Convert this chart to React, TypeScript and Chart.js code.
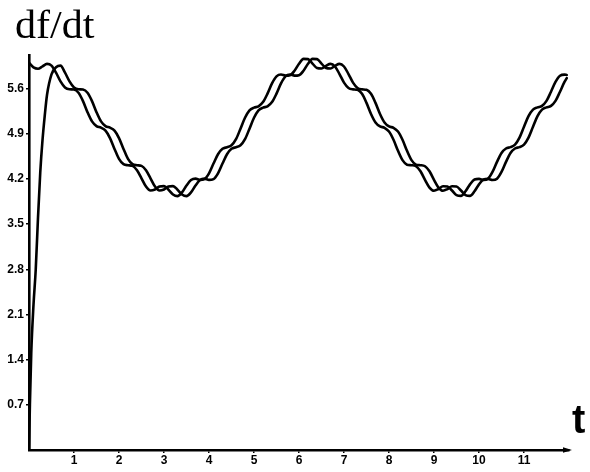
import React, { useEffect, useRef } from "react";
import { Chart, registerables } from "chart.js";

Chart.register(...registerables);

const yTitle = "df/dt";
const xTitle = "t";

const xTicks = [1, 2, 3, 4, 5, 6, 7, 8, 9, 10, 11];
const xTickLabels = ["1", "2", "3", "4", "5", "6", "7", "8", "9", "10", "11"];
const yTicks = [0.7, 1.4, 2.1, 2.8, 3.5, 4.2, 4.9, 5.6];
const yTickLabels = ["0.7", "1.4", "2.1", "2.8", "3.5", "4.2", "4.9", "5.6"];

const timesA = [
  0, 0.1, 0.2, 0.3, 0.4, 0.5, 0.6, 0.7, 0.8, 0.9,
  1, 1.1, 1.2, 1.3, 1.4, 1.5, 1.6, 1.7, 1.8, 1.9,
  2, 2.1, 2.2, 2.3, 2.4, 2.5, 2.6, 2.7, 2.8, 2.9,
  3, 3.1, 3.2, 3.3, 3.4, 3.5, 3.6, 3.7, 3.8, 3.9,
  4, 4.1, 4.2, 4.3, 4.4, 4.5, 4.6, 4.7, 4.8, 4.9,
  5, 5.1, 5.2, 5.3, 5.4, 5.5, 5.6, 5.7, 5.8, 5.9,
  6, 6.1, 6.2, 6.3, 6.4, 6.5, 6.6, 6.7, 6.8, 6.9,
  7, 7.1, 7.2, 7.3, 7.4, 7.5, 7.6, 7.7, 7.8, 7.9,
  8, 8.1, 8.2, 8.3, 8.4, 8.5, 8.6, 8.7, 8.8, 8.9,
  9, 9.1, 9.2, 9.3, 9.4, 9.5, 9.6, 9.7, 9.8, 9.9,
  10, 10.1, 10.2, 10.3, 10.4, 10.5, 10.6, 10.7, 10.8, 10.9,
  11, 11.1, 11.2, 11.3, 11.4, 11.5, 11.6, 11.7, 11.8, 11.9,
  11.95,
];

const valuesA = [
  6.0, 5.928, 5.907, 5.944, 5.982, 5.955, 5.847, 5.712, 5.618, 5.589,
  5.584, 5.534, 5.405, 5.233, 5.091, 5.019, 4.994, 4.948, 4.833, 4.665,
  4.511, 4.428, 4.412, 4.402, 4.335, 4.21, 4.082, 4.02, 4.036, 4.082,
  4.089, 4.033, 3.958, 3.933, 3.991, 4.098, 4.182, 4.204, 4.185, 4.197,
  4.286, 4.438, 4.583, 4.666, 4.692, 4.721, 4.816, 4.978, 5.148, 5.263,
  5.305, 5.324, 5.39, 5.522, 5.68, 5.789, 5.818, 5.8, 5.807, 5.876,
  5.984, 6.06, 6.056, 5.987, 5.919, 5.911, 5.952, 5.983, 5.942, 5.825,
  5.692, 5.609, 5.588, 5.58, 5.518, 5.378, 5.207, 5.075, 5.014, 4.992,
  4.934, 4.806, 4.635, 4.491, 4.421, 4.412, 4.396, 4.318, 4.186, 4.066,
  4.017, 4.043, 4.086, 4.082, 4.02, 3.948, 3.937, 4.009, 4.116, 4.191,
  4.201, 4.183, 4.204, 4.309, 4.465, 4.602, 4.671, 4.693, 4.731, 4.839,
  5.008, 5.173, 5.274, 5.308, 5.331, 5.409, 5.551, 5.703, 5.799, 5.816,
  5.81,
];

const timesB = [
  0, 0.02, 0.05, 0.1, 0.15, 0.2, 0.25, 0.3, 0.35, 0.4, 0.5, 0.6,
  0.7, 0.8, 0.9,
  1, 1.1, 1.2, 1.3, 1.4, 1.5, 1.6, 1.7, 1.8, 1.9,
  2, 2.1, 2.2, 2.3, 2.4, 2.5, 2.6, 2.7, 2.8, 2.9,
  3, 3.1, 3.2, 3.3, 3.4, 3.5, 3.6, 3.7, 3.8, 3.9,
  4, 4.1, 4.2, 4.3, 4.4, 4.5, 4.6, 4.7, 4.8, 4.9,
  5, 5.1, 5.2, 5.3, 5.4, 5.5, 5.6, 5.7, 5.8, 5.9,
  6, 6.1, 6.2, 6.3, 6.4, 6.5, 6.6, 6.7, 6.8, 6.9,
  7, 7.1, 7.2, 7.3, 7.4, 7.5, 7.6, 7.7, 7.8, 7.9,
  8, 8.1, 8.2, 8.3, 8.4, 8.5, 8.6, 8.7, 8.8, 8.9,
  9, 9.1, 9.2, 9.3, 9.4, 9.5, 9.6, 9.7, 9.8, 9.9,
  10, 10.1, 10.2, 10.3, 10.4, 10.5, 10.6, 10.7, 10.8, 10.9,
  11, 11.1, 11.2, 11.3, 11.4, 11.5, 11.6, 11.7, 11.8, 11.9,
  11.95,
];

const valuesB = [
  0, 0.7, 1.5, 2.25, 2.8, 3.6, 4.3, 4.8, 5.18, 5.5, 5.82, 5.93,
  5.955, 5.847, 5.712,
  5.618, 5.589, 5.584, 5.534, 5.405, 5.233, 5.091, 5.019, 4.994, 4.948,
  4.833, 4.665, 4.511, 4.428, 4.412, 4.402, 4.335, 4.21, 4.082, 4.02,
  4.036, 4.082, 4.089, 4.033, 3.958, 3.933, 3.991, 4.098, 4.182, 4.204,
  4.185, 4.197, 4.286, 4.438, 4.583, 4.666, 4.692, 4.721, 4.816, 4.978,
  5.148, 5.263, 5.305, 5.324, 5.39, 5.522, 5.68, 5.789, 5.818, 5.8,
  5.807, 5.876, 5.984, 6.06, 6.056, 5.987, 5.919, 5.911, 5.952, 5.983,
  5.942, 5.825, 5.692, 5.609, 5.588, 5.58, 5.518, 5.378, 5.207, 5.075,
  5.014, 4.992, 4.934, 4.806, 4.635, 4.491, 4.421, 4.412, 4.396, 4.318,
  4.186, 4.066, 4.017, 4.043, 4.086, 4.082, 4.02, 3.948, 3.937, 4.009,
  4.116, 4.191, 4.201, 4.183, 4.204, 4.309, 4.465, 4.602, 4.671, 4.693,
  4.731, 4.839, 5.008, 5.173, 5.274, 5.308, 5.331, 5.409, 5.551, 5.703,
  5.761,
];

const toPoints = (ts: number[], vs: number[]) => {
  const n = Math.min(ts.length, vs.length);
  const out: { x: number; y: number }[] = [];
  for (let i = 0; i < n; i++) out.push({ x: ts[i], y: vs[i] });
  return out;
};

const decorations = {
  id: "decorations",
  afterDraw(chart: any) {
    const ctx = chart.ctx as CanvasRenderingContext2D;
    const { left, right, top, bottom } = chart.chartArea;
    ctx.save();
    ctx.fillStyle = "#000";
    // arrow head on x axis
    ctx.beginPath();
    ctx.moveTo(right + 3, bottom);
    ctx.lineTo(right - 6, bottom - 2.8);
    ctx.lineTo(right - 6, bottom + 2.8);
    ctx.closePath();
    ctx.fill();
    // y title
    ctx.textBaseline = "alphabetic";
    ctx.textAlign = "left";
    ctx.font = '39px "Liberation Serif", "Times New Roman", serif';
    ctx.save();
    ctx.translate(left - 14, top - 17);
    ctx.scale(1.08, 1);
    ctx.fillText(yTitle, 0, 0);
    ctx.restore();
    // x title
    ctx.font = 'bold 40px "Liberation Sans", Arial, sans-serif';
    ctx.fillText(xTitle, right + 3, bottom - 17);
    ctx.restore();
  },
};

export default function App() {
  const canvasRef = useRef<HTMLCanvasElement | null>(null);

  useEffect(() => {
    if (!canvasRef.current) return;
    const tickFont = { family: '"Liberation Sans", Arial, sans-serif', weight: "bold" as const, size: 12 };
    const chart = new Chart(canvasRef.current, {
      type: "line",
      data: {
        datasets: [
          {
            data: toPoints(timesA, valuesA),
            borderColor: "#000",
            borderWidth: 2.6,
            pointRadius: 0,
            fill: false,
            cubicInterpolationMode: "monotone",
          },
          {
            data: toPoints(timesB, valuesB),
            borderColor: "#000",
            borderWidth: 2.6,
            pointRadius: 0,
            fill: false,
            cubicInterpolationMode: "monotone",
          },
        ],
      },
      options: {
        animation: false,
        responsive: true,
        maintainAspectRatio: false,
        layout: { padding: { left: 0, top: 55, right: 21, bottom: 0 } },
        plugins: {
          legend: { display: false },
          title: { display: false },
          tooltip: { enabled: false },
        },
        elements: { line: { borderCapStyle: "round", borderJoinStyle: "round" } },
        scales: {
          x: {
            type: "linear",
            min: 0,
            max: 12,
            afterFit: (scale: any) => {
              scale.height = 22;
            },
            afterBuildTicks: (scale: any) => {
              scale.ticks = xTicks.map((v) => ({ value: v }));
            },
            ticks: {
              color: "#000",
              font: tickFont,
              padding: 0,
              maxRotation: 0,
              autoSkip: false,
              callback: (_v: any, i: number) => xTickLabels[i],
            },
            grid: {
              display: true,
              drawOnChartArea: false,
              drawTicks: true,
              tickLength: 3,
              color: "#000",
              lineWidth: 1.5,
            },
            border: { display: true, color: "#000", width: 2.6 },
          },
          y: {
            type: "linear",
            min: 0,
            max: 6.12,
            afterFit: (scale: any) => {
              scale.width = 29;
            },
            afterBuildTicks: (scale: any) => {
              scale.ticks = yTicks.map((v) => ({ value: v }));
            },
            ticks: {
              color: "#000",
              font: tickFont,
              padding: 2,
              autoSkip: false,
              callback: (_v: any, i: number) => yTickLabels[i],
            },
            grid: {
              display: true,
              drawOnChartArea: false,
              drawTicks: true,
              tickLength: 3,
              color: "#000",
              lineWidth: 1.5,
            },
            border: { display: true, color: "#000", width: 2.6 },
          },
        },
      },
      plugins: [decorations],
    } as any);
    return () => chart.destroy();
  }, []);

  return (
    <div
      style={{
        position: "fixed",
        left: 0,
        top: 0,
        width: 590,
        height: 472,
        background: "#fff",
      }}
    >
      <canvas ref={canvasRef} />
    </div>
  );
}
